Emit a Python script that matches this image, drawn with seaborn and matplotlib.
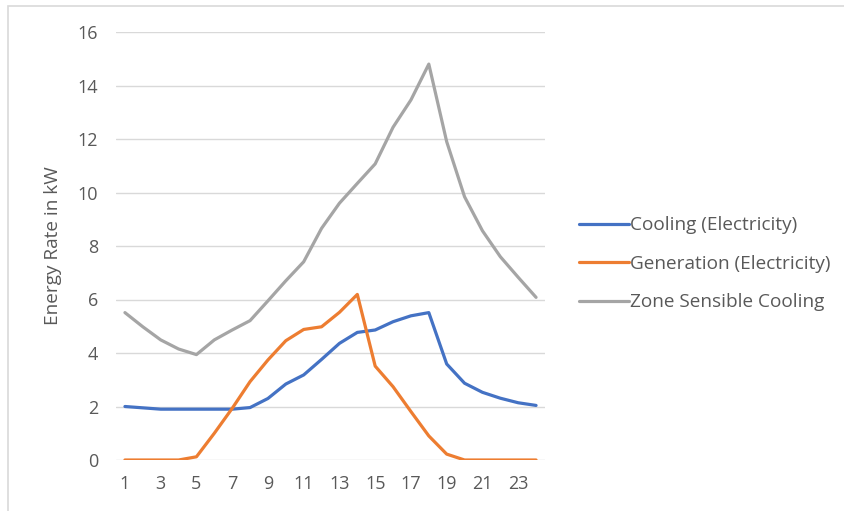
import matplotlib
matplotlib.use("Agg")
import matplotlib.pyplot as plt
import seaborn as sns
import pandas as pd
from matplotlib.patches import Rectangle
from matplotlib.lines import Line2D

hours = list(range(1, 25))
cooling = [2.00, 1.95, 1.90, 1.90, 1.90, 1.90, 1.90, 1.96, 2.30, 2.84, 3.18, 3.76,
           4.36, 4.77, 4.86, 5.17, 5.39, 5.51, 3.59, 2.87, 2.53, 2.31, 2.14, 2.04]
generation = [0.00, 0.00, 0.00, 0.00, 0.12, 1.00, 1.93, 2.93, 3.74, 4.46, 4.88, 4.98,
              5.52, 6.19, 3.51, 2.74, 1.81, 0.90, 0.22, 0.00, 0.00, 0.00, 0.00, 0.00]
zone_sensible = [5.51, 4.98, 4.49, 4.15, 3.94, 4.49, 4.86, 5.21, 5.95, 6.70, 7.41, 8.66,
                 9.60, 10.34, 11.07, 12.44, 13.46, 14.80, 11.90, 9.84, 8.57, 7.60, 6.83, 6.08]
series_names = ["Cooling (Electricity)", "Generation (Electricity)", "Zone Sensible Cooling"]
colors = ["#4472C4", "#ED7D31", "#A5A5A5"]
y_ticks = list(range(0, 17, 2))
x_ticks = list(range(1, 25, 2))

df = pd.concat([
    pd.DataFrame({"hour": hours, "value": vals, "series": name})
    for name, vals in zip(series_names, [cooling, generation, zone_sensible])
])

sns.set_theme(style="white")
plt.rcParams["font.family"] = ["Open Sans", "DejaVu Sans"]
text_color = "#595959"
grid_color = "#D9D9D9"
fs_text = 13.7
fs_tick = 13

fig = plt.figure(figsize=(8.44, 5.11), dpi=100)
ax = fig.add_axes([116 / 844, 1 - 460 / 511, (545 - 116) / 844, (460 - 32) / 511])

sns.lineplot(data=df, x="hour", y="value", hue="series", hue_order=series_names,
             palette=colors, linewidth=2.3, ax=ax, legend=False)

ax.set_xlim(0.5, 24.5)
ax.set_ylim(0, 16)
ax.set_yticks(y_ticks)
ax.set_xticks(x_ticks)
ax.set_xlabel("")
ax.set_ylabel("Energy Rate in kW", fontsize=fs_text, color=text_color, labelpad=11)
ax.tick_params(axis="both", length=0, labelsize=fs_tick, labelcolor=text_color)
ax.tick_params(axis="y", pad=13)
ax.tick_params(axis="x", pad=11)
ax.grid(axis="y", color=grid_color, linewidth=1)
ax.set_axisbelow(True)
for side in ["top", "right", "left", "bottom"]:
    ax.spines[side].set_visible(False)

handles = [Line2D([0], [0], color=c, linewidth=2.3) for c in colors]
fig.legend(handles, series_names, loc="upper left", bbox_to_anchor=(579 / 844, 1 - 216.5 / 511),
           frameon=False, fontsize=fs_text, labelcolor=text_color, handlelength=2.65,
           handletextpad=0.05, labelspacing=1.07, borderpad=0, borderaxespad=0)

# chart area outline
fig.patches.append(Rectangle((8 / 844, -0.05), 1.1, 1 - 6.5 / 511 + 0.05,
                             transform=fig.transFigure, fill=False,
                             edgecolor=grid_color, linewidth=1.2))

fig.savefig("out.png", dpi=100, facecolor="white")
